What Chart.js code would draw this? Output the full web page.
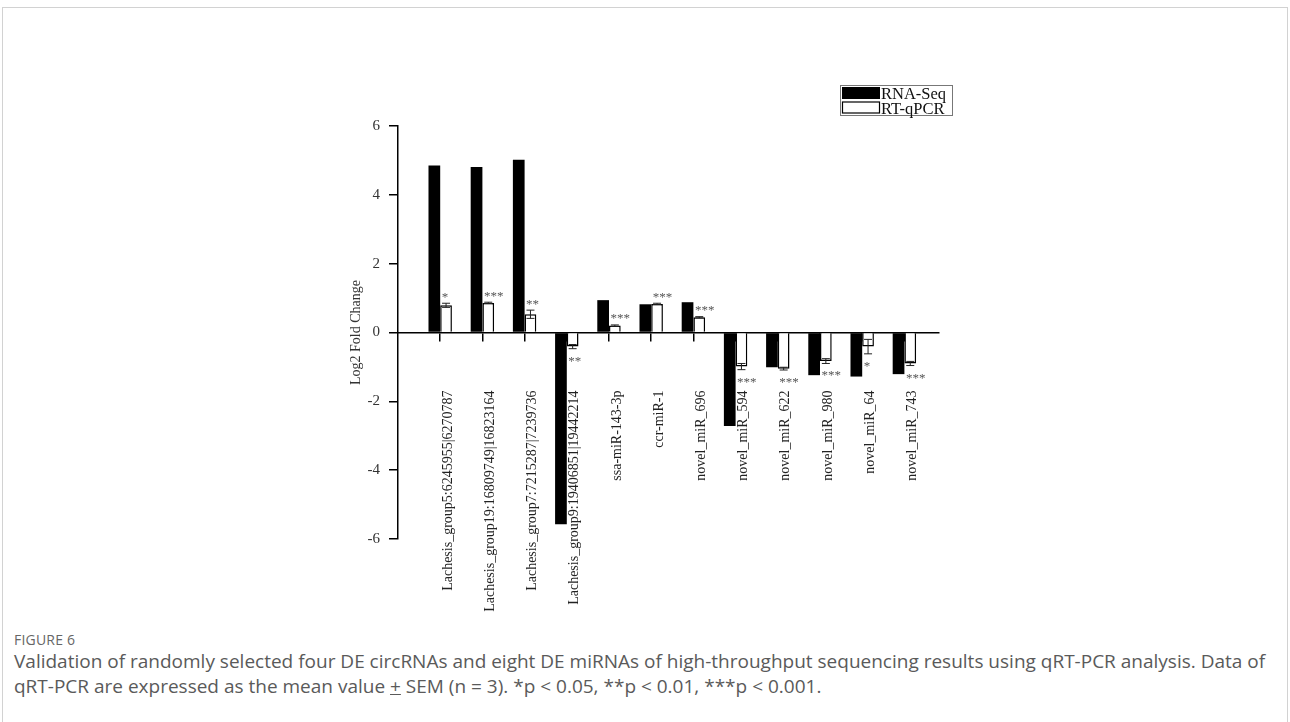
<!DOCTYPE html>
<html>
<head>
<meta charset="utf-8">
<title>Figure 6</title>
<script src="https://cdn.jsdelivr.net/npm/chart.js@4.4.1/dist/chart.umd.min.js"></script>
<style>
  html, body { margin: 0; padding: 0; background: #fff; width: 1290px; height: 722px; overflow: hidden; }
  .figure-frame { position: absolute; left: 2px; top: 7px; width: 1286px; height: 800px; border: 1px solid #d2d2d2; box-sizing: border-box; }
  #plot { position: absolute; left: 0; top: 0; width: 1290px; height: 620px; }
  .fig-label { position: absolute; left: 14px; top: 631px; font-family: 'Open Sans', sans-serif; font-size: 14px; line-height: 18px; color: #666; letter-spacing: 0.2px; }
  .fig-caption { position: absolute; left: 14px; top: 649px; width: 1270px; font-family: 'Open Sans', sans-serif; font-size: 19px; line-height: 25px; color: #5a5a5a; white-space: nowrap; }
</style>
</head>
<body>
<div class="figure-frame"></div>
<div id="plot"><canvas id="chart" width="1290" height="620"></canvas></div>
<div class="fig-label">FIGURE 6</div>
<div class="fig-caption">Validation of randomly selected four DE circRNAs and eight DE miRNAs of high-throughput sequencing results using qRT-PCR analysis. Data of<br>qRT-PCR are expressed as the mean value <u>+</u> SEM (n = 3). *p &lt; 0.05, **p &lt; 0.01, ***p &lt; 0.001.</div>

<script>
// Transcripts validated (circRNAs first, then miRNAs)
const categories = [
  'Lachesis_group5:6245955|6270787',
  'Lachesis_group19:16809749|16823164',
  'Lachesis_group7:7215287|7239736',
  'Lachesis_group9:19406851|19442214',
  'ssa-miR-143-3p',
  'ccr-miR-1',
  'novel_miR_696',
  'novel_miR_594',
  'novel_miR_622',
  'novel_miR_980',
  'novel_miR_64',
  'novel_miR_743'
];

// Log2 fold change from sequencing
const rnaSeq = [4.85, 4.81, 5.02, -5.57, 0.94, 0.82, 0.88, -2.72, -1.01, -1.24, -1.28, -1.21];

// Log2 fold change from qRT-PCR (mean) and its SEM
const rtqPCR = [0.79, 0.86, 0.53, -0.41, 0.20, 0.83, 0.44, -0.99, -1.05, -0.83, -0.41, -0.90];
const rtqSEM = [0.06, 0.02, 0.12, 0.06, 0.02, 0.02, 0.02, 0.09, 0.04, 0.07, 0.21, 0.06];

// Significance marks for the qRT-PCR bars
const significance = ['*', '***', '**', '**', '***', '***', '***', '***', '***', '***', '*', '***'];

// Value axis range and step
const yMin = -6, yMax = 6, yStep = 2;

const serif = "'Liberation Serif', 'Times New Roman', serif";
Chart.defaults.font.family = serif;
Chart.defaults.color = '#222';

// SEM whiskers and significance stars on the qRT-PCR bars
const semAndStars = {
  id: 'semAndStars',
  afterDatasetsDraw(chart) {
    const ctx = chart.ctx;
    const y = chart.scales.y;
    const meta = chart.getDatasetMeta(1);
    ctx.save();
    ctx.strokeStyle = '#222';
    ctx.lineWidth = 1;
    meta.data.forEach((bar, i) => {
      const v = rtqPCR[i], e = rtqSEM[i];
      const yHi = y.getPixelForValue(v + e);
      const yLo = y.getPixelForValue(v - e);
      const cap = 4;
      ctx.beginPath();
      ctx.moveTo(bar.x, yHi); ctx.lineTo(bar.x, yLo);
      ctx.moveTo(bar.x - cap, yHi); ctx.lineTo(bar.x + cap, yHi);
      ctx.moveTo(bar.x - cap, yLo); ctx.lineTo(bar.x + cap, yLo);
      ctx.stroke();

      ctx.font = '13px ' + serif;
      ctx.fillStyle = '#555';
      ctx.textAlign = 'left';
      ctx.textBaseline = 'alphabetic';
      const left = bar.x - bar.width / 2 + 1.5;
      const top = Math.min(yHi, bar.y);
      const bottom = Math.max(yLo, bar.y);
      if (v >= 0) {
        ctx.fillText(significance[i], left, top - 2.5);
      } else {
        ctx.fillText(significance[i], left, bottom + 16);
      }
    });
    ctx.restore();
  }
};

// Boxed two-row legend at the upper right of the plot
const boxedLegend = {
  id: 'boxedLegend',
  afterDraw(chart) {
    const {ctx, chartArea} = chart;
    const x0 = chartArea.right - 99;
    const y0 = chartArea.top - 41;
    const w = 112, rowH = 14.5;
    ctx.save();
    ctx.strokeStyle = '#777';
    ctx.lineWidth = 1;
    ctx.strokeRect(x0 + 0.5, y0 + 0.5, w, rowH * 2 + 1);
    chart.data.datasets.forEach((ds, i) => {
      const ry = y0 + 2 + i * rowH;
      ctx.fillStyle = ds.backgroundColor;
      ctx.fillRect(x0 + 2, ry, 38, 12);
      if (ds.borderWidth) {
        ctx.strokeStyle = ds.borderColor;
        ctx.lineWidth = 1.2;
        ctx.strokeRect(x0 + 2.5, ry + 0.5, 37, 11);
      }
      ctx.fillStyle = '#111';
      ctx.font = '16.5px ' + serif;
      ctx.textAlign = 'left';
      ctx.textBaseline = 'alphabetic';
      ctx.fillText(ds.label, x0 + 41, ry + 12);
    });
    ctx.restore();
  }
};

new Chart(document.getElementById('chart'), {
  type: 'bar',
  data: {
    datasets: [
      {
        label: 'RNA-Seq',
        data: rnaSeq.map((v, i) => ({ x: i, y: v })),
        backgroundColor: '#000',
        borderWidth: 0
      },
      {
        label: 'RT-qPCR',
        data: rtqPCR.map((v, i) => ({ x: i, y: v })),
        backgroundColor: '#fff',
        borderColor: '#000',
        borderWidth: 1.5
      }
    ]
  },
  options: {
    responsive: false,
    animation: false,
    devicePixelRatio: 1,
    categoryPercentage: 0.555,
    barPercentage: 1,
    layout: { padding: { left: 338, top: 126, right: 351, bottom: 81 } },
    plugins: {
      legend: { display: false },
      tooltip: { enabled: false }
    },
    scales: {
      x: {
        type: 'linear',
        position: { y: 0 },
        min: -1,
        max: 11.82,
        offset: false,
        grid: { offset: false, drawOnChartArea: false, drawTicks: true, tickLength: 8, color: '#000', lineWidth: 1.5 },
        border: { display: true, color: '#000', width: 1.5 },
        ticks: {
          autoSkip: false,
          minRotation: 90,
          maxRotation: 90,
          padding: 50,
          labelOffset: 8,
          color: '#222',
          font: { size: 14 },
          callback: (value) => categories[value] ?? ''
        },
        afterBuildTicks: (scale) => {
          scale.ticks = categories.map((_, i) => ({ value: i }));
        }
      },
      y: {
        min: yMin,
        max: yMax,
        ticks: { stepSize: yStep, padding: 9, color: '#333', font: { size: 15 } },
        grid: { drawOnChartArea: false, drawTicks: true, tickLength: 9, color: '#000', lineWidth: 1.5 },
        border: { display: true, color: '#000', width: 1.5 },
        title: { display: true, text: 'Log2 Fold Change', color: '#333', font: { size: 14 }, padding: { top: 10, bottom: 0 } },
        afterFit: (scale) => { scale.width = 60; }
      }
    }
  },
  plugins: [semAndStars, boxedLegend]
});
</script>
</body>
</html>
